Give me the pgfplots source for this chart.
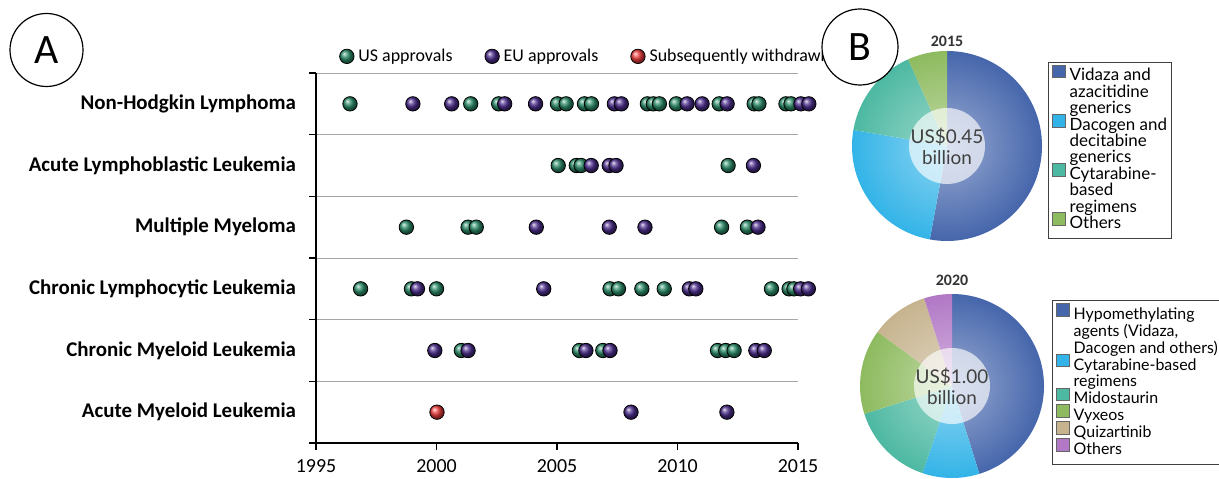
\documentclass[border=0pt]{standalone}
\usepackage{pgfplots}
\pgfplotsset{compat=1.18}
\usepackage{fontspec}
\setmainfont{Carlito}
\newfontfamily\piefont{Lato}
\usetikzlibrary{fadings}

\definecolor{usgreen}{HTML}{2A8C68}
\definecolor{eupurple}{HTML}{4B2C8C}
\definecolor{wdred}{HTML}{EE3B3B}
\definecolor{hma}{HTML}{4666AC}
\definecolor{dac}{HTML}{33B4E8}
\definecolor{cyt}{HTML}{4DB9A2}
\definecolor{oth}{HTML}{8EBB5F}
\definecolor{quiz}{HTML}{C7B48F}
\definecolor{othp}{HTML}{B278C6}

\tikzfading[name=pieglow, inner color=transparent!55, outer color=transparent!100]

% slice from cumulative percent #1 to #2, clockwise from the top
\newcommand{\slice}[4]{%
  \fill[#3] (axis cs:0,0) -- ++({90-3.6*#1}:#4)
    arc[start angle={90-3.6*#1}, end angle={90-3.6*#2}, radius=#4] -- cycle;}

\pgfplotsset{
  sq/.style={legend image code/.code={%
    \draw[overlay, fill=#1, draw=black!60, line width=0.4pt] (0bp,-0.5bp) rectangle (6.3bp,5.8bp);
    \path[draw=none, fill=none] (0bp,2bp) rectangle (6.3bp,2bp);}},
  blank/.style={legend image code/.code={\path[draw=none, fill=none] (0bp,2bp) rectangle (6.3bp,2bp);}},
  pielegend/.style={
    legend cell align=left,
    legend style={draw=black!75, line width=0.5pt, fill=white,
      inner xsep=2bp, inner ysep=3bp, row sep=0pt,
      nodes={text height=5.9bp, text depth=1.7bp, inner sep=0.3bp},
      /tikz/every odd column/.append style={column sep=2bp}}},
}

\begin{document}
\begin{tikzpicture}
\useasboundingbox (0,0) rectangle (609.5bp,239.5bp);

% ---------------- panel A ----------------
\begin{axis}[
  at={(158bp,18bp)}, anchor=south west,
  scale only axis, width=241bp, height=185bp,
  xmin=1995, xmax=2015, ymin=0, ymax=6,
  axis lines=left, axis line style={-, black, line width=0.8pt},
  xtick={1995,2000,...,2015},
  ytick={0,...,6}, yticklabels={},
  ymajorgrids, major grid style={gray!70, line width=0.5pt},
  tick align=outside, major tick length=3.5bp,
  tick style={black, line width=0.8pt},
  x tick label style={/pgf/number format/1000 sep={}, font=\fontsize{10}{12}\selectfont, yshift=-1.5bp},
  /pgf/number format/assume math mode=true,
  clip=false,
  mark size=3.6bp,
  legend columns=3,
  legend cell align=left,
  legend style={draw=none, fill=none, at={(0.035,1.045)}, anchor=west,
    font=\fontsize{9}{11}\selectfont,
    /tikz/every even column/.append style={column sep=14bp}},
]
\addplot[only marks, mark=ball, ball color=usgreen, mark options={ball color=usgreen}] coordinates {
  (1996.41,5.5) (2001.42,5.5) (2002.58,5.5) (2005.02,5.5) (2005.38,5.5) (2006.14,5.5) (2006.43,5.5)
  (2008.75,5.5) (2009.00,5.5) (2009.25,5.5) (2009.95,5.5) (2011.73,5.5) (2013.18,5.5) (2013.38,5.5)
  (2014.50,5.5) (2014.71,5.5)
  (2005.05,4.5) (2005.80,4.5) (2006.00,4.5) (2012.10,4.5)
  (1998.75,3.5) (2001.31,3.5) (2001.65,3.5) (2011.83,3.5) (2012.90,3.5)
  (1996.85,2.5) (1998.96,2.5) (2000.00,2.5) (2007.20,2.5) (2007.55,2.5) (2008.52,2.5) (2009.45,2.5)
  (2013.90,2.5) (2014.63,2.5) (2014.83,2.5)
  (2001.03,1.5) (2005.93,1.5) (2006.90,1.5) (2011.66,1.5) (2012.00,1.5) (2012.35,1.5)
};
\addlegendentry{US approvals}
\addplot[only marks, mark=ball, ball color=eupurple, mark options={ball color=eupurple}] coordinates {
  (1999.02,5.5) (2000.63,5.5) (2002.83,5.5) (2004.11,5.5) (2007.38,5.5) (2007.67,5.5) (2010.40,5.5)
  (2011.02,5.5) (2012.06,5.5) (2015.12,5.5) (2015.45,5.5)
  (2006.42,4.5) (2007.17,4.5) (2007.45,4.5) (2013.15,4.5)
  (2004.14,3.5) (2007.17,3.5) (2008.65,3.5) (2013.34,3.5)
  (1999.21,2.5) (2004.45,2.5) (2010.49,2.5) (2010.76,2.5) (2015.11,2.5) (2015.43,2.5)
  (1999.93,1.5) (2001.31,1.5) (2006.20,1.5) (2007.20,1.5) (2013.25,1.5) (2013.60,1.5)
  (2008.07,0.5) (2012.05,0.5)
};
\addlegendentry{EU approvals}
\addplot[only marks, mark=ball, ball color=wdred, mark options={ball color=wdred}] coordinates {
  (2000.02,0.5)
};
\addlegendentry{Subsequently withdrawn}

\node[anchor=east, font=\bfseries\fontsize{10.5}{12}\selectfont, xshift=-6.5bp] at (axis cs:1995,5.5) {Non-Hodgkin Lymphoma};
\node[anchor=east, font=\bfseries\fontsize{10.5}{12}\selectfont, xshift=-6.5bp] at (axis cs:1995,4.5) {Acute Lymphoblastic Leukemia};
\node[anchor=east, font=\bfseries\fontsize{10.5}{12}\selectfont, xshift=-6.5bp] at (axis cs:1995,3.5) {Multiple Myeloma};
\node[anchor=east, font=\bfseries\fontsize{10.5}{12}\selectfont, xshift=-6.5bp] at (axis cs:1995,2.5) {Chronic Lymphocytic Leukemia};
\node[anchor=east, font=\bfseries\fontsize{10.5}{12}\selectfont, xshift=-6.5bp] at (axis cs:1995,1.5) {Chronic Myeloid Leukemia};
\node[anchor=east, font=\bfseries\fontsize{10.5}{12}\selectfont, xshift=-6.5bp] at (axis cs:1995,0.5) {Acute Myeloid Leukemia};
\end{axis}

% ---------------- panel B, 2015 ----------------
\begin{axis}[
  at={(426bp,119bp)}, anchor=south west,
  scale only axis, width=95bp, height=95bp,
  xmin=-1, xmax=1, ymin=-1, ymax=1, hide axis, clip=false,
  pielegend,
  legend style={at={(1.0316,0.942)}, anchor=north west, font=\piefont\fontsize{8.5}{9}\selectfont},
]
\addlegendimage{sq=hma}\addlegendentry{Vidaza and}
\addlegendimage{blank}\addlegendentry{azacitidine}
\addlegendimage{blank}\addlegendentry{generics}
\addlegendimage{sq=dac}\addlegendentry{Dacogen and}
\addlegendimage{blank}\addlegendentry{decitabine}
\addlegendimage{blank}\addlegendentry{generics}
\addlegendimage{sq=cyt}\addlegendentry{Cytarabine-}
\addlegendimage{blank}\addlegendentry{based}
\addlegendimage{blank}\addlegendentry{regimens}
\addlegendimage{sq=oth}\addlegendentry{Others}
\slice{0}{52.9}{hma}{47.5bp}
\slice{52.9}{77.7}{dac}{47.5bp}
\slice{77.7}{93.3}{cyt}{47.5bp}
\slice{93.3}{100}{oth}{47.5bp}
\fill[white, path fading=pieglow] (axis cs:0,0) circle[radius=47.5bp];
\fill[white, opacity=0.65] (axis cs:0,0) circle[radius=19bp];
\node[font=\piefont\fontsize{9.5}{10.5}\selectfont, align=center, text=black!75] at (axis cs:0,0) {US\$0.45\\billion};
\node[anchor=south, font=\bfseries\fontsize{8}{9}\selectfont, text=black!80, yshift=-1.5bp] at (axis cs:0,1) {2015};
\end{axis}

% ---------------- panel B, 2020 ----------------
\begin{axis}[
  at={(430bp,0.5bp)}, anchor=south west,
  scale only axis, width=92bp, height=92bp,
  xmin=-1, xmax=1, ymin=-1, ymax=1, hide axis, clip=false,
  pielegend,
  legend style={at={(1.0435,0.967)}, anchor=north west, font=\piefont\fontsize{8}{9}\selectfont,
    nodes={text height=6.1bp, text depth=1.75bp}},
]
\addlegendimage{sq=hma}\addlegendentry{Hypomethylating}
\addlegendimage{blank}\addlegendentry{agents (Vidaza,}
\addlegendimage{blank}\addlegendentry{Dacogen and others)}
\addlegendimage{sq=dac}\addlegendentry{Cytarabine-based}
\addlegendimage{blank}\addlegendentry{regimens}
\addlegendimage{sq=cyt}\addlegendentry{Midostaurin}
\addlegendimage{sq=oth}\addlegendentry{Vyxeos}
\addlegendimage{sq=quiz}\addlegendentry{Quizartinib}
\addlegendimage{sq=othp}\addlegendentry{Others}
\slice{0}{45.2}{hma}{46bp}
\slice{45.2}{55.2}{dac}{46bp}
\slice{55.2}{70.1}{cyt}{46bp}
\slice{70.1}{85.0}{oth}{46bp}
\slice{85.0}{95.1}{quiz}{46bp}
\slice{95.1}{100}{othp}{46bp}
\fill[white, path fading=pieglow] (axis cs:0,0) circle[radius=46bp];
\fill[white, opacity=0.65] (axis cs:0,0) circle[radius=19bp];
\node[font=\piefont\fontsize{9.5}{10.5}\selectfont, align=center, text=black!75] at (axis cs:0,0) {US\$1.00\\billion};
\node[anchor=south, font=\bfseries\fontsize{8}{9}\selectfont, text=black!80, yshift=0.5bp] at (axis cs:0,1) {2020};
\end{axis}

% panel letters
\draw[line width=0.6pt] (23.25bp,214.5bp) circle[radius=18.25bp];
\node[font=\fontsize{21}{24}\selectfont] at (23.25bp,214.5bp) {A};
\draw[line width=0.6pt, fill=white] (430bp,216bp) circle[radius=19bp];
\node[font=\fontsize{21}{24}\selectfont] at (430bp,216bp) {B};
\end{tikzpicture}
\end{document}
